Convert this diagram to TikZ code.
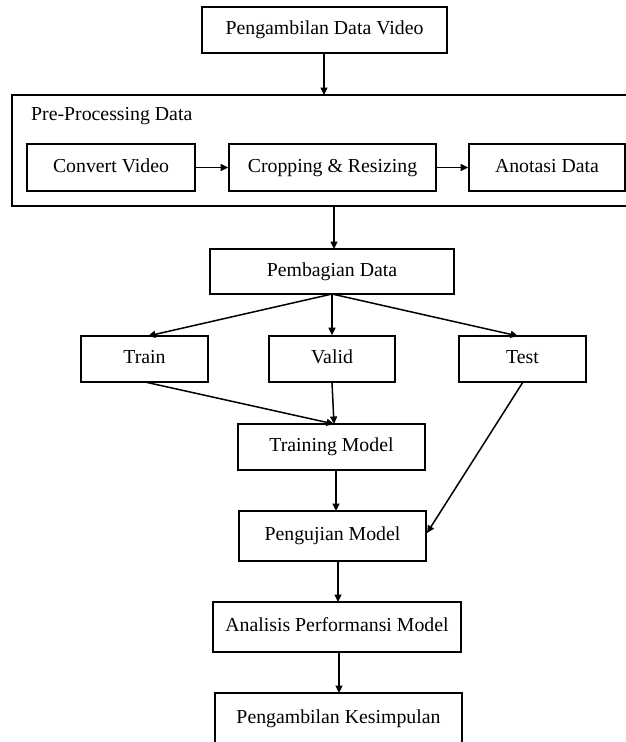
\documentclass[tikz,border=0pt]{standalone}
\usepackage{fontspec}
\setmainfont{Liberation Serif}
\usetikzlibrary{arrows.meta}
\begin{document}
\begin{tikzpicture}[x=1pt,y=-1pt,
  box/.style={draw, line width=1.6pt, inner sep=0pt, text height=13.5pt, text depth=4.5pt, font=\fontsize{19.8}{23}\selectfont},
  arr/.style={line width=1.5pt, -{Triangle[length=7.5pt,width=7pt]}},
  ln/.style={line width=1.5pt}]
\useasboundingbox (0,0) rectangle (626,742);
\clip (0,0) rectangle (626,742);
\fill[white] (0,0) rectangle (626,742);
% nodes
\node[box, minimum width=245pt, minimum height=46pt] (top) at (324.5,30) {Pengambilan Data Video};
\node[box, minimum width=628pt, minimum height=111pt] (pre) at (326,150.5) {};
\node[anchor=base west, inner sep=0pt, font=\fontsize{19.8}{23}\selectfont] (prelbl) at (31,120) {Pre-Processing Data};
\node[box, minimum width=168pt, minimum height=47pt] (conv) at (111,167.5) {Convert Video};
\node[box, minimum width=207pt, minimum height=47pt] (crop) at (332.5,167.5) {Cropping \& Resizing};
\node[box, minimum width=156pt, minimum height=47pt] (anot) at (547,167.5) {Anotasi Data};
\node[box, minimum width=244pt, minimum height=45pt] (pemb) at (332,271.5) {Pembagian Data};
\node[box, minimum width=127pt, minimum height=46pt] (train) at (144.5,359) {Train};
\node[box, minimum width=126pt, minimum height=46pt] (valid) at (332,359) {Valid};
\node[box, minimum width=127pt, minimum height=46pt] (test) at (522.5,359) {Test};
\node[box, minimum width=187pt, minimum height=46pt] (trmod) at (331.5,447) {Training Model};
\node[box, minimum width=187pt, minimum height=50pt] (uji) at (332.5,536) {Pengujian Model};
\node[box, minimum width=248pt, minimum height=50pt] (anal) at (337,627) {Analisis Performansi Model};
\node[box, minimum width=247pt, minimum height=52pt] (kes) at (338.5,719) {Pengambilan Kesimpulan};
% coordinates
\coordinate (c1) at (324,53);
\coordinate (c2) at (324,95);
\coordinate (c3) at (334,206);
\coordinate (c4) at (334,249);
\coordinate (apex) at (332,294);
\coordinate (trtop) at (148,336);
\coordinate (tetop) at (518,336);
\coordinate (trbot) at (145,382);
\coordinate (tmtop) at (334,424);
\coordinate (tmbot) at (336,470);
\coordinate (ujtop) at (336,511);
\coordinate (tebot) at (523,382);
\coordinate (ujright) at (427,533);
\coordinate (ujbot) at (338,561);
\coordinate (antop) at (338,602);
\coordinate (anbot) at (339,652);
\coordinate (kstop) at (339,693);
% connectors
\draw[arr] (c1) -- (c2);
\draw[arr] (conv.east) -- (crop.west);
\draw[arr] (crop.east) -- (anot.west);
\draw[arr] (c3) -- (c4);
\draw[arr] (apex) -- (trtop);
\draw[arr] (apex) -- (valid.north);
\draw[arr] (apex) -- (tetop);
\draw[arr] (valid.south) -- (tmtop);
\draw[arr] (trbot) -- (tmtop);
\draw[arr] (tmbot) -- (ujtop);
\draw[arr] (tebot) -- (ujright);
\draw[arr] (ujbot) -- (antop);
\draw[arr] (anbot) -- (kstop);
\end{tikzpicture}
\end{document}
